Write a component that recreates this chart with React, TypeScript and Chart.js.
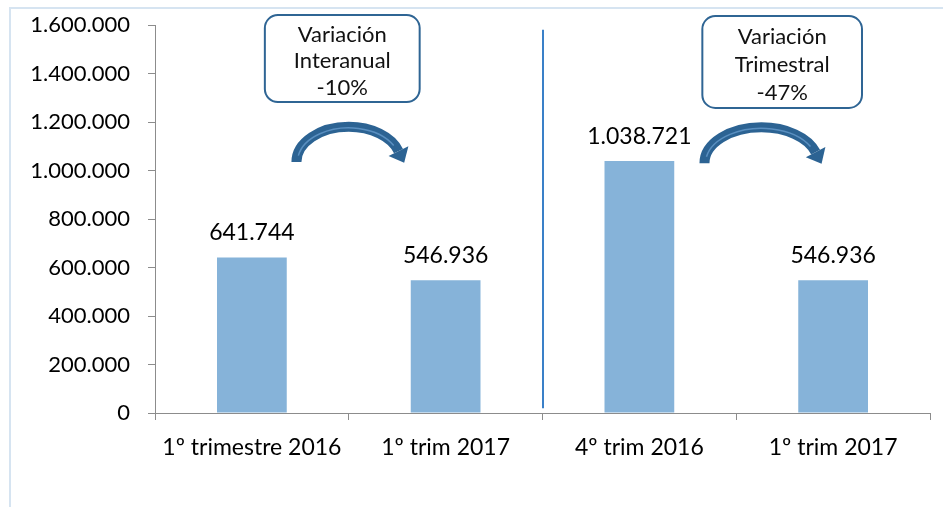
import React, { useEffect, useRef } from "react";
import { Chart, registerables } from "chart.js";

Chart.register(...registerables);

const categories = ["1º trimestre 2016", "1º trim 2017", "4º trim 2016", "1º trim 2017"];
const values = [641744, 546936, 1038721, 546936];
const yTicks = [0, 200000, 400000, 600000, 800000, 1000000, 1200000, 1400000, 1600000];
const boxTexts = [
  ["Variación", "Interanual", "-10%"],
  ["Variación", "Trimestral", "-47%"],
];

const FONT = "Lato, 'DejaVu Sans', sans-serif";

const fmt = (v: number) => v.toLocaleString("de-DE");

const decorPlugin = {
  id: "decor",
  beforeDraw(chart: any) {
    const ctx = chart.ctx;
    ctx.save();
    ctx.strokeStyle = "#D6E4F1";
    ctx.lineWidth = 2;
    ctx.strokeRect(10, 8, chart.width + 20, chart.height + 20);
    ctx.restore();
  },
  afterDatasetsDraw(chart: any) {
    const ctx = chart.ctx;
    const xs = chart.scales.x;
    const ys = chart.scales.y;
    ctx.save();
    // data labels
    const meta = chart.getDatasetMeta(0);
    ctx.font = `23px ${FONT}`;
    ctx.fillStyle = "#000";
    ctx.textAlign = "center";
    ctx.textBaseline = "bottom";
    meta.data.forEach((bar: any, i: number) => {
      ctx.fillText(fmt(values[i]), bar.x, bar.y - 13);
    });
    // divider
    const dx = Math.round(xs.getPixelForValue(1.5));
    ctx.strokeStyle = "#3A80C8";
    ctx.lineWidth = 2;
    ctx.beginPath();
    ctx.moveTo(dx, ys.getPixelForValue(1580000));
    ctx.lineTo(dx, ys.getPixelForValue(20000));
    ctx.stroke();

    // boxes
    const boxes = [
      { x0: 0.067, x1: 0.866, y0: 1641000, y1: 1282000 },
      { x0: 2.325, x1: 3.149, y0: 1637000, y1: 1258000 },
    ];
    boxes.forEach((b, k) => {
      const l = xs.getPixelForValue(b.x0);
      const r = xs.getPixelForValue(b.x1);
      const t = ys.getPixelForValue(b.y0);
      const bt = ys.getPixelForValue(b.y1);
      ctx.fillStyle = "#fff";
      ctx.strokeStyle = "#2F6594";
      ctx.lineWidth = 2;
      ctx.beginPath();
      ctx.roundRect(l, t, r - l, bt - t, 13);
      ctx.fill();
      ctx.stroke();
      ctx.fillStyle = "#111";
      ctx.font = `22px ${FONT}`;
      ctx.textAlign = "center";
      ctx.textBaseline = "middle";
      const cx = (l + r) / 2;
      const lh = (bt - t) / 3.3;
      boxTexts[k].forEach((s, j) => {
        ctx.fillText(s, cx, t + lh * 0.75 + j * lh);
      });
    });

    // arrows
    const arrows = [
      { c: 0.5, rx: 0.27, base: 1035000, ry: 145000 },
      { c: 2.63, rx: 0.294, base: 1030000, ry: 148000 },
    ];
    arrows.forEach((ar) => {
      const cx = xs.getPixelForValue(ar.c);
      const rx = xs.getPixelForValue(ar.c + ar.rx) - cx;
      const base = ys.getPixelForValue(ar.base);
      const ry = base - ys.getPixelForValue(ar.base + ar.ry);
      const endA = Math.PI * 1.9;
      ctx.strokeStyle = "#2C6393";
      ctx.lineWidth = 10;
      ctx.lineCap = "butt";
      ctx.beginPath();
      ctx.ellipse(cx, base, rx, ry, 0, Math.PI, endA);
      ctx.stroke();
      ctx.strokeStyle = "#5A8FC0";
      ctx.lineWidth = 1.5;
      ctx.beginPath();
      ctx.ellipse(cx, base, rx - 1, ry - 1, 0, Math.PI * 1.06, Math.PI * 1.84);
      ctx.stroke();
      // arrow head
      const ex = cx + rx * Math.cos(endA);
      const ey = base + ry * Math.sin(endA);
      let tx = -rx * Math.sin(endA);
      let ty = ry * Math.cos(endA);
      const n = Math.hypot(tx, ty);
      tx /= n; ty /= n;
      const px = -ty, py = tx;
      const hw = 11, hl = 13;
      ctx.fillStyle = "#2C6393";
      ctx.beginPath();
      ctx.moveTo(ex + px * hw, ey + py * hw);
      ctx.lineTo(ex - px * hw, ey - py * hw);
      ctx.lineTo(ex + tx * hl, ey + ty * hl);
      ctx.closePath();
      ctx.fill();
    });
    ctx.restore();
  },
};

export default function App() {
  const ref = useRef<HTMLCanvasElement>(null);
  useEffect(() => {
    if (!ref.current) return;
    const chart = new Chart(ref.current, {
      type: "bar",
      data: {
        labels: categories,
        datasets: [
          {
            data: values,
            backgroundColor: "#86B3D9",
            categoryPercentage: 1,
            barPercentage: 0.36,
          },
        ],
      },
      plugins: [decorPlugin],
      options: {
        animation: false,
        responsive: false,
        layout: { padding: { top: 25, right: 13, left: 0, bottom: 0 } },
        plugins: { legend: { display: false }, tooltip: { enabled: false } },
        scales: {
          x: {
            grid: { drawOnChartArea: false, drawTicks: true, tickLength: 7, color: "#8C8C8C", offset: true },
            border: { color: "#8C8C8C", width: 1 },
            ticks: { color: "#000", font: { family: FONT, size: 23 }, padding: 14, maxRotation: 0 },
            afterFit: (s: any) => { s.height = 94; s.paddingLeft = 0; s.paddingRight = 0; },
          },
          y: {
            min: 0,
            max: 1600000,
            afterBuildTicks: (s: any) => { s.ticks = yTicks.map((v) => ({ value: v })); },
            grid: { drawOnChartArea: false, drawTicks: true, tickLength: 7, color: "#8C8C8C" },
            border: { color: "#8C8C8C", width: 1 },
            ticks: { color: "#000", font: { family: FONT, size: 22 }, padding: 18, callback: (v: any) => fmt(Number(v)) },
            afterFit: (s: any) => { s.width = 155; s.paddingTop = 10; s.paddingBottom = 10; },
          },
        },
      },
    });
    return () => chart.destroy();
  }, []);
  return (
    <div style={{ position: "fixed", left: 0, top: 0, width: 943, height: 507, background: "#fff" }}>
      <canvas ref={ref} width={943} height={507} style={{ width: 943, height: 507, display: "block" }} />
    </div>
  );
}
